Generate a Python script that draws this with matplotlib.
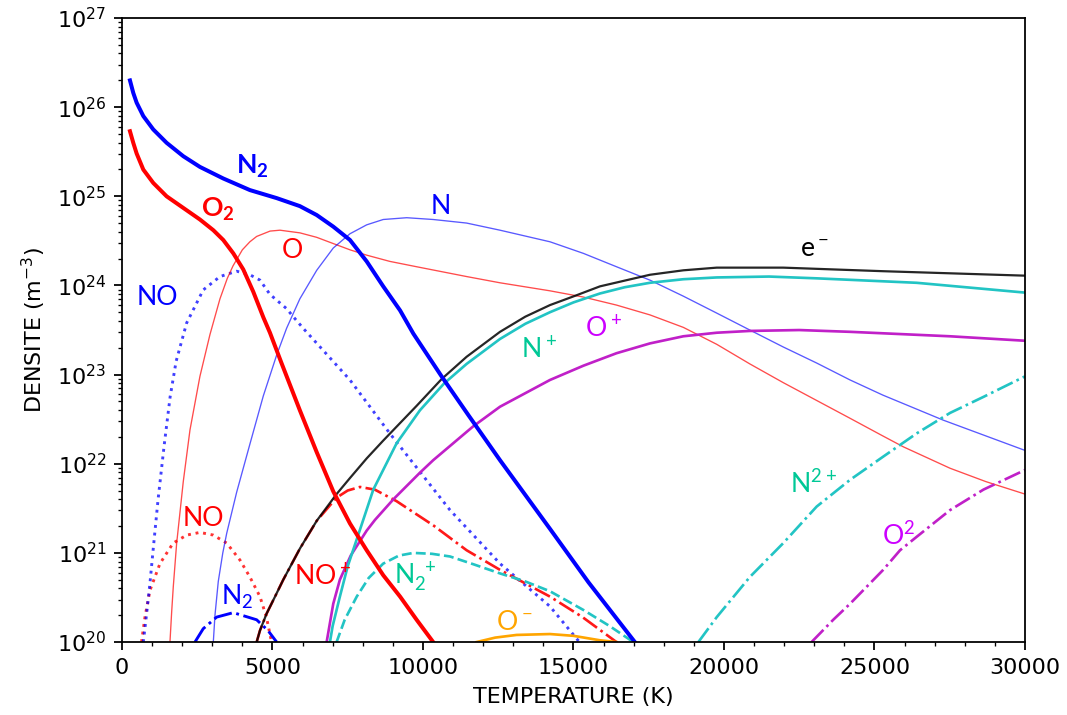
import numpy as np
import matplotlib
matplotlib.use("Agg")
import matplotlib.pyplot as plt

# ---------------- data (temperature in K, log10 of density in m^-3) ----------------
T_N2 = [266, 376, 488, 709, 1040, 1484, 2037, 2590, 3366, 4250, 5140, 5910, 6470, 7020, 7575,
        8130, 8680, 9240, 9680, 10620, 11500, 12560, 14220, 15500, 17040]
L_N2 = [26.30, 26.16, 26.05, 25.90, 25.75, 25.60, 25.45, 25.33, 25.20, 25.07, 24.98, 24.89, 24.79, 24.66, 24.51,
        24.27, 23.99, 23.72, 23.46, 22.98, 22.55, 22.04, 21.27, 20.67, 20.00]

T_O2 = [266, 376, 488, 709, 1040, 1484, 2037, 2590, 3035, 3366, 3700, 4030, 4362, 4700, 4917,
        5300, 5910, 6470, 7020, 7575, 8130, 8680, 9240, 9790, 10340]
L_O2 = [25.73, 25.60, 25.48, 25.30, 25.15, 25.00, 24.87, 24.74, 24.62, 24.51, 24.36, 24.18, 23.93, 23.64, 23.47,
        23.13, 22.60, 22.13, 21.69, 21.33, 21.03, 20.75, 20.51, 20.25, 20.00]

T_N = [3035, 3090, 3200, 3350, 3480, 3810, 4250, 4695, 5140, 5470, 5910, 6470, 7020, 7575, 8130, 8680, 9460,
       10340, 11450, 12560, 14220, 15330, 16430, 17540, 18650, 19760, 20860, 21970, 23080, 24190, 25280,
       27280, 30000]
L_N = [20.00, 20.30, 20.68, 21.00, 21.22, 21.68, 22.22, 22.76, 23.22, 23.52, 23.85, 24.17, 24.42, 24.58, 24.68, 24.74, 24.76,
       24.74, 24.70, 24.62, 24.49, 24.36, 24.21, 24.06, 23.88, 23.69, 23.50, 23.31, 23.13, 22.94, 22.77,
       22.49, 22.15]

T_O = [1595, 1650, 1705, 1815, 2037, 2260, 2590, 2924, 3256, 3500, 3690, 4000, 4250, 4475, 4920, 5250, 5914,
       6470, 7020, 7575, 8130, 8900, 9790, 11450, 12560, 14220, 15330, 16430, 17540, 18650, 19760,
       20860, 21970, 23080, 24190, 25290, 25960, 27510, 28700, 30000]
L_O = [20.00, 20.33, 20.62, 21.10, 21.80, 22.38, 22.98, 23.45, 23.85, 24.08, 24.22, 24.40, 24.49, 24.55, 24.61, 24.62, 24.59,
       24.54, 24.47, 24.40, 24.34, 24.27, 24.21, 24.10, 24.03, 23.94, 23.87, 23.78, 23.67, 23.53, 23.34,
       23.12, 22.91, 22.71, 22.51, 22.31, 22.19, 21.95, 21.80, 21.66]

T_NO = [709, 820, 930, 1040, 1200, 1400, 1600, 1800, 2150, 2700, 3256, 3810, 4250, 4585, 4917, 5470,
        5690, 6020, 7575, 8900, 10900, 12560, 14220, 15200]
L_NO = [20.00, 20.32, 20.66, 21.05, 21.60, 22.20, 22.75, 23.15, 23.58, 23.95, 24.10, 24.16, 24.12, 24.06, 23.90, 23.74,
        23.65, 23.52, 22.94, 22.34, 21.48, 20.88, 20.40, 20.00]

T_NO_b = [650, 764, 930, 1262, 1700, 2150, 2590, 3035, 3480, 3920, 4250, 4585, 4800, 4970]
L_NO_b = [20.00, 20.28, 20.58, 20.88, 21.11, 21.20, 21.23, 21.20, 21.11, 20.92, 20.73, 20.51, 20.28, 20.00]

T_N2_b = [2425, 2700, 3145, 3700, 4475, 4850, 5140]
L_N2_b = [20.00, 20.15, 20.28, 20.33, 20.25, 20.13, 20.00]

T_E = [4475, 4585, 4807, 5100, 5360, 5914, 6470, 7130, 7575, 8130, 8680, 9790, 10620,
       11450, 12560, 13400, 14220, 15100, 15880, 17540, 18650, 19760, 21970, 25290, 30000]
L_E = [20.00, 20.13, 20.32, 20.52, 20.70, 21.05, 21.36, 21.66, 21.84, 22.06, 22.26, 22.65, 22.95,
       23.20, 23.48, 23.65, 23.78, 23.89, 23.99, 24.12, 24.17, 24.20, 24.20, 24.16, 24.11]

T_NP = [6910, 7000, 7240, 7500, 7907, 8350, 9125, 9900, 10700, 11450, 12560, 13400, 14220, 15000, 15880,
        16700, 17540, 18650, 19760, 21500, 23080, 26400, 30000]
L_NP = [20.00, 20.18, 20.51, 20.85, 21.26, 21.71, 22.23, 22.60, 22.90, 23.12, 23.40, 23.57, 23.70, 23.81, 23.91,
        23.98, 24.03, 24.07, 24.09, 24.10, 24.08, 24.03, 23.92]

T_OP = [6800, 7020, 7240, 7600, 8130, 8405, 9013, 9900, 10340, 11670, 12560, 14220, 15330, 16430, 17540,
        18650, 19760, 20860, 22500, 24190, 27510, 30000]
L_OP = [20.00, 20.43, 20.70, 20.97, 21.25, 21.37, 21.60, 21.90, 22.04, 22.42, 22.64, 22.94, 23.10, 23.24, 23.35,
        23.43, 23.47, 23.49, 23.50, 23.48, 23.43, 23.38]

T_NOP = [4475, 4585, 4807, 5100, 5360, 5914, 6470, 7130, 7500, 7907, 8400, 9125, 10340, 11450, 12560, 14220, 15300, 16430]
L_NOP = [20.00, 20.13, 20.32, 20.52, 20.70, 21.05, 21.36, 21.62, 21.70, 21.74, 21.71, 21.58, 21.31, 21.03, 20.81, 20.51, 20.28, 20.00]

T_N2P = [7130, 7400, 7800, 8200, 8680, 9200, 9680, 10300, 10900, 11700, 12560, 13400, 14220, 15330, 16200, 16990]
L_N2P = [20.00, 20.25, 20.51, 20.72, 20.88, 20.97, 21.00, 20.99, 20.96, 20.87, 20.77, 20.68, 20.57, 20.36, 20.18, 20.00]

T_OM = [11780, 12400, 13110, 14220, 15000, 15880, 16430]
L_OM = [20.00, 20.05, 20.08, 20.09, 20.07, 20.02, 20.00]

T_N2PP = [19150, 19760, 20860, 21970, 23080, 24190, 25290, 26400, 27510, 28620, 30000]
L_N2PP = [20.00, 20.28, 20.73, 21.11, 21.52, 21.82, 22.08, 22.34, 22.57, 22.75, 22.98]

T_O2PP = [22910, 23630, 24190, 25290, 25850, 26400, 27510, 28620, 30000]
L_O2PP = [20.00, 20.25, 20.43, 20.81, 21.03, 21.18, 21.48, 21.71, 21.93]

# ---------------- figure ----------------
fig = plt.figure(figsize=(1067 / 160, 715 / 160), dpi=160)
ax = fig.add_axes([0.1143, 0.102, 0.9606 - 0.1143, 0.9748 - 0.102])

def d(v):
    return 10.0 ** np.asarray(v)

BLUE = '#0000ff'
RED = '#ff0000'
CYAN = '#22c4c4'
MAG = '#c020c8'
ORANGE = '#ffa500'

ax.plot(T_NO_b, d(L_NO_b), color=RED, ls=':', lw=1.3, alpha=0.8)
ax.plot(T_N2_b, d(L_N2_b), color=BLUE, ls='-.', lw=1.3)
ax.plot(T_NO, d(L_NO), color=BLUE, ls=':', lw=1.3, alpha=0.75)
ax.plot(T_O, d(L_O), color=RED, ls='-', lw=0.6, alpha=0.7)
ax.plot(T_N, d(L_N), color=BLUE, ls='-', lw=0.6, alpha=0.65)
ax.plot(T_NOP, d(L_NOP), color=RED, ls='-.', lw=1.2, alpha=0.9)
ax.plot(T_N2P, d(L_N2P), color=CYAN, ls='--', lw=1.2)
ax.plot(T_OM, d(L_OM), color=ORANGE, ls='-', lw=1.2)
ax.plot(T_N2PP, d(L_N2PP), color=CYAN, ls='-.', lw=1.2)
ax.plot(T_O2PP, d(L_O2PP), color=MAG, ls='-.', lw=1.2)
ax.plot(T_OP, d(L_OP), color=MAG, ls='-', lw=1.2)
ax.plot(T_NP, d(L_NP), color=CYAN, ls='-', lw=1.2)
ax.plot(T_E, d(L_E), color='black', ls='-', lw=1.0, alpha=0.85)
ax.plot(T_O2, d(L_O2), color=RED, ls='-', lw=1.8)
ax.plot(T_N2, d(L_N2), color=BLUE, ls='-', lw=1.8)

ax.set_yscale('log')
ax.set_xlim(0, 30000)
ax.set_ylim(1e20, 1e27)
ax.xaxis.set_minor_locator(matplotlib.ticker.MultipleLocator(1000))
ax.set_xlabel('TEMPERATURE (K)')
ax.set_ylabel('DENSITE (m$^{-3}$)')

# ---------------- labels ----------------
LF = ['Lato', 'DejaVu Sans']
FS = 12
labels = [
    (4319, 25.33, r'$\mathregular{N_2}$', BLUE, 'bold'),
    (3189, 24.85, r'$\mathregular{O_2}$', RED, 'bold'),
    (10598, 24.89, 'N', BLUE, 'normal'),
    (5648, 24.39, 'O', RED, 'normal'),
    (1163, 23.86, 'NO', BLUE, 'normal'),
    (2691, 21.39, 'NO', RED, 'normal'),
    (3821, 20.51, r'$\mathregular{N_2}$', BLUE, 'normal'),
    (6678, 20.73, r'$\mathregular{NO^+}$', RED, 'normal'),
    (9734, 20.73, r'$\mathregular{N_2^{\ +}}$', '#00c896', 'normal'),
    (13023, 20.22, r'$\mathregular{O^-}$', ORANGE, 'normal'),
    (13854, 23.28, r'$\mathregular{N^+}$', '#00c896', 'normal'),
    (16013, 23.51, r'$\mathregular{O^+}$', '#cc00ff', 'normal'),
    (23023, 24.40, r'$\mathregular{e^-}$', 'black', 'normal'),
    (22957, 21.77, r'$\mathregular{N^{2+}}$', '#00c896', 'normal'),
    (25814, 21.19, r'$\mathregular{O^2}$', '#cc00ff', 'normal'),
]
for x, ly, s, c, w in labels:
    ax.text(x, 10 ** ly, s, color=c, fontsize=FS, fontweight=w, family=LF,
            ha='center', va='center')

fig.savefig('out.png', dpi=160)
